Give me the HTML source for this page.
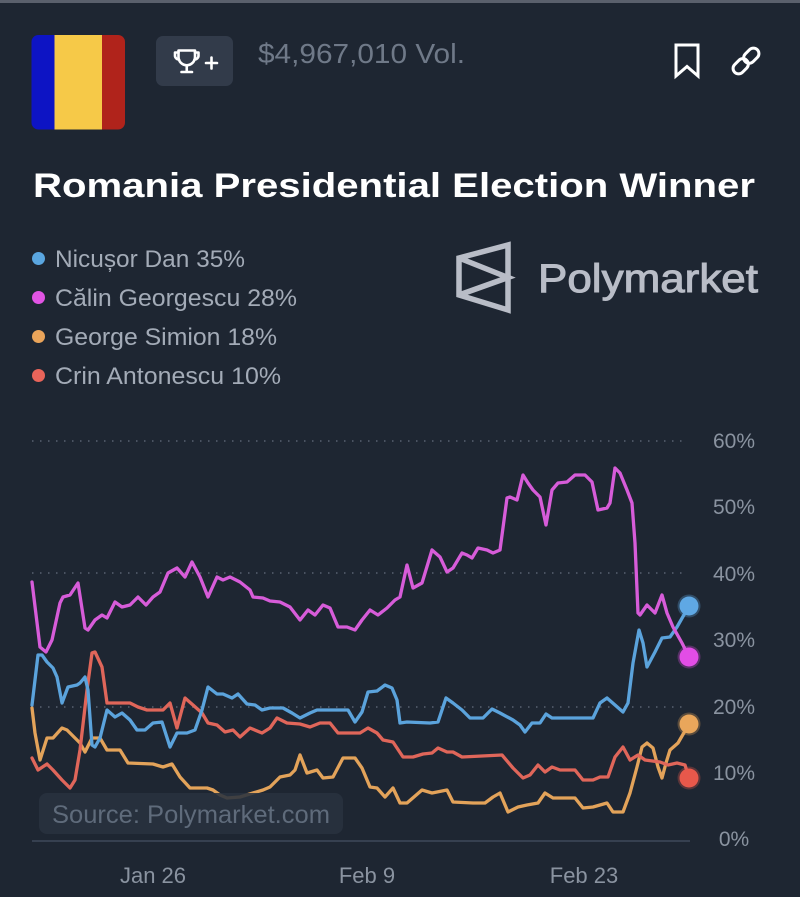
<!DOCTYPE html>
<html>
<head>
<meta charset="utf-8">
<style>
html,body{margin:0;padding:0;background:#1e2632;}
svg{display:block;}
text{font-family:"Liberation Sans",Arial,sans-serif;}
</style>
</head>
<body>
<svg width="800" height="897" viewBox="0 0 800 897" xmlns="http://www.w3.org/2000/svg">
<rect x="0" y="0" width="800" height="897" fill="#1e2632"/>
<rect x="0" y="0" width="800" height="3" fill="#5a606c"/>

<!-- Flag -->
<defs>
<clipPath id="flagclip"><rect x="31.5" y="35" width="93.5" height="94.5" rx="7" ry="7"/></clipPath>
</defs>
<g clip-path="url(#flagclip)">
<rect x="31" y="35" width="23.5" height="95" fill="#0d14c4"/>
<rect x="54.5" y="35" width="47.5" height="95" fill="#f6c948"/>
<rect x="102" y="35" width="23.5" height="95" fill="#b0231b"/>
</g>

<!-- Trophy box -->
<rect x="156" y="36" width="77" height="50" rx="7" ry="7" fill="#323b4a"/>
<g fill="none" stroke="#ffffff" stroke-width="2.6" stroke-linecap="round" stroke-linejoin="round">
<path d="M178.5,50.5 H195 V57 A8.25,8.25 0 0 1 178.5,57 Z"/>
<path d="M178.5,52.5 H175 V55 A4,4 0 0 0 179,59.5"/>
<path d="M195,52.5 H198.5 V55 A4,4 0 0 1 194.5,59.5"/>
<path d="M186.75,65.5 V71.5"/>
<path d="M181.5,72 H192"/>
<path d="M206,63 H217 M211.5,57.5 V68.5"/>
</g>

<!-- Volume -->
<text x="258" y="63" font-size="28" fill="#6f7988" textLength="207" lengthAdjust="spacingAndGlyphs">$4,967,010 Vol.</text>

<!-- Bookmark -->
<path d="M676,45 H698 V76 L687,66.5 L676,76 Z" fill="none" stroke="#ffffff" stroke-width="3" stroke-linejoin="miter"/>
<!-- Link -->
<g transform="translate(746,61) rotate(-45)" fill="none" stroke="#ffffff" stroke-width="3">
<rect x="-16" y="-5.5" width="17" height="11" rx="5.5" ry="5.5"/>
<rect x="-1" y="-5.5" width="17" height="11" rx="5.5" ry="5.5"/>
</g>

<!-- Title -->
<text x="33" y="197" font-size="34" font-weight="bold" fill="#ffffff" textLength="722" lengthAdjust="spacingAndGlyphs">Romania Presidential Election Winner</text>

<!-- Legend -->
<circle cx="38.5" cy="258.5" r="6.5" fill="#5aa6e0"/>
<text x="55" y="267" font-size="24" fill="#a3abb7" textLength="190" lengthAdjust="spacingAndGlyphs">Nicușor Dan 35%</text>
<circle cx="38.5" cy="297.5" r="6.5" fill="#e154e4"/>
<text x="55" y="306" font-size="24" fill="#a3abb7" textLength="242" lengthAdjust="spacingAndGlyphs">Călin Georgescu 28%</text>
<circle cx="38.5" cy="336.5" r="6.5" fill="#eaa45a"/>
<text x="55" y="345" font-size="24" fill="#a3abb7" textLength="222" lengthAdjust="spacingAndGlyphs">George Simion 18%</text>
<circle cx="38.5" cy="375.5" r="6.5" fill="#e9645a"/>
<text x="55" y="384" font-size="24" fill="#a3abb7" textLength="226" lengthAdjust="spacingAndGlyphs">Crin Antonescu 10%</text>

<!-- Polymarket logo -->
<path d="M459,258 L508,245 L508,310 L459,295 Z M459,258 L508,277.5 L459,295" fill="none" stroke="#b9bdc7" stroke-width="5.5" stroke-linejoin="miter"/>
<text x="538" y="292" font-size="40" fill="#b9bdc7" stroke="#b9bdc7" stroke-width="1" textLength="220" lengthAdjust="spacingAndGlyphs">Polymarket</text>

<!-- Gridlines -->
<g stroke="#4a5361" stroke-width="2" stroke-dasharray="1.5 6.5">
<line x1="32" y1="441" x2="688" y2="441"/>
<line x1="32" y1="573" x2="688" y2="573"/>
<line x1="32" y1="707" x2="688" y2="707"/>
</g>
<line x1="32" y1="841" x2="690" y2="841" stroke="#364050" stroke-width="2"/>

<!-- Y labels -->
<g font-size="21" fill="#8a93a0" text-anchor="middle">
<text x="734" y="448">60%</text>
<text x="734" y="514">50%</text>
<text x="734" y="581">40%</text>
<text x="734" y="647">30%</text>
<text x="734" y="714">20%</text>
<text x="734" y="780">10%</text>
<text x="734" y="846">0%</text>
</g>

<!-- X labels -->
<g font-size="22" fill="#8a93a0" text-anchor="middle">
<text x="153" y="883">Jan 26</text>
<text x="367" y="883">Feb 9</text>
<text x="584" y="883">Feb 23</text>
</g>

<!-- Series -->
<g fill="none" stroke-width="3.3" stroke-linejoin="round" stroke-linecap="round">
<polyline stroke="#e3a35a" points="32,708 35,733 40,760 47,738 53,738 62,728 67,730 75,738 80,743 85,752 92,738 100,738 107,750 120,750 128,763 153,764 163,767 172,764 180,777 190,788 207,788 213,790 220,795 227,798 240,797 253,793 263,790 270,787 280,777 290,775 295,770 300,755 307,773 317,770 323,778 333,777 343,758 355,758 362,768 370,787 377,788 385,797 393,788 400,803 407,803 422,790 432,793 447,790 453,802 473,803 485,803 493,797 500,793 508,812 518,807 527,805 538,803 545,793 553,798 575,798 583,808 593,807 607,803 613,812 623,812 630,793 637,767 642,747 647,743 653,748 658,767 662,778 666,763 670,750 678,743 689,724"/>
<polyline stroke="#e0665a" points="32,758 38,770 47,764 53,770 62,780 70,788 75,780 80,750 87,690 92,653 95,652 102,667 107,703 130,703 138,707 147,710 163,710 170,703 177,728 185,698 193,705 202,713 208,723 217,725 225,732 233,730 240,737 250,728 262,733 270,728 277,718 287,723 300,724 310,727 320,723 330,723 338,733 360,733 368,728 377,733 383,740 393,742 403,757 413,757 423,754 432,753 438,748 447,752 453,752 462,757 502,755 513,768 523,778 530,775 538,765 545,772 552,767 560,770 575,770 583,780 593,780 600,777 608,777 615,757 623,747 630,760 638,755 645,760 660,762 668,765 677,763 685,765 689,778"/>
<polyline stroke="#5ba3dc" points="32,705 38,655 42,655 47,662 53,668 57,677 62,703 68,687 77,685 80,683 85,677 88,690 92,745 95,747 100,738 107,710 115,717 122,713 130,720 137,730 145,730 153,723 162,722 170,747 177,733 187,733 195,730 202,710 208,687 217,694 223,694 232,698 238,694 247,704 255,705 262,710 270,708 283,708 292,713 300,718 310,713 317,710 348,710 355,722 362,712 368,692 377,691 385,685 392,688 397,700 400,723 407,722 430,723 438,722 446,698 453,703 462,710 470,718 483,718 492,709 500,713 513,720 520,725 525,732 532,723 540,723 546,714 552,718 593,718 600,703 607,698 615,705 623,712 628,703 633,663 639,630 643,643 647,667 655,652 662,638 670,637 677,627 689,606"/>
<polyline stroke="#d75cd9" points="32,582 40,647 46,652 52,640 60,603 63,597 70,595 78,583 85,628 88,630 95,620 102,615 107,618 115,602 122,607 130,605 138,597 146,605 153,597 160,592 168,573 177,568 185,577 192,562 200,577 208,597 217,577 223,580 230,577 240,582 250,590 253,597 263,598 270,601 280,602 290,607 300,620 308,610 315,615 323,605 330,608 338,627 347,627 355,630 362,620 370,610 378,615 387,608 395,600 400,597 407,565 413,588 422,583 432,550 440,557 447,572 453,568 462,553 467,555 472,558 478,548 487,550 493,553 500,550 507,498 510,497 517,500 523,475 528,483 533,490 540,497 546,525 552,490 558,483 567,482 575,475 585,475 592,482 598,510 607,508 610,503 615,468 620,473 627,490 632,503 635,543 638,613 640,615 647,605 655,613 662,595 667,613 673,627 682,643 689,657"/>
</g>

<!-- End dots -->
<circle cx="689" cy="606" r="11.5" fill="#5fa8e4" opacity="0.3"/>
<circle cx="689" cy="606" r="9.5" fill="#5fa8e4"/>
<circle cx="689" cy="657" r="11.5" fill="#e24de6" opacity="0.3"/>
<circle cx="689" cy="657" r="9.5" fill="#e24de6"/>
<circle cx="689" cy="724" r="11.5" fill="#e9a65b" opacity="0.3"/>
<circle cx="689" cy="724" r="9.5" fill="#e9a65b"/>
<circle cx="689" cy="778" r="11.5" fill="#e8584b" opacity="0.3"/>
<circle cx="689" cy="778" r="9.5" fill="#e8584b"/>

<!-- Source box -->
<rect x="39" y="793" width="304" height="41" rx="8" ry="8" fill="#29323f" fill-opacity="0.88"/>
<text x="52" y="823" font-size="25" fill="#5f6b7b" textLength="278" lengthAdjust="spacingAndGlyphs">Source: Polymarket.com</text>
</svg>
</body>
</html>
